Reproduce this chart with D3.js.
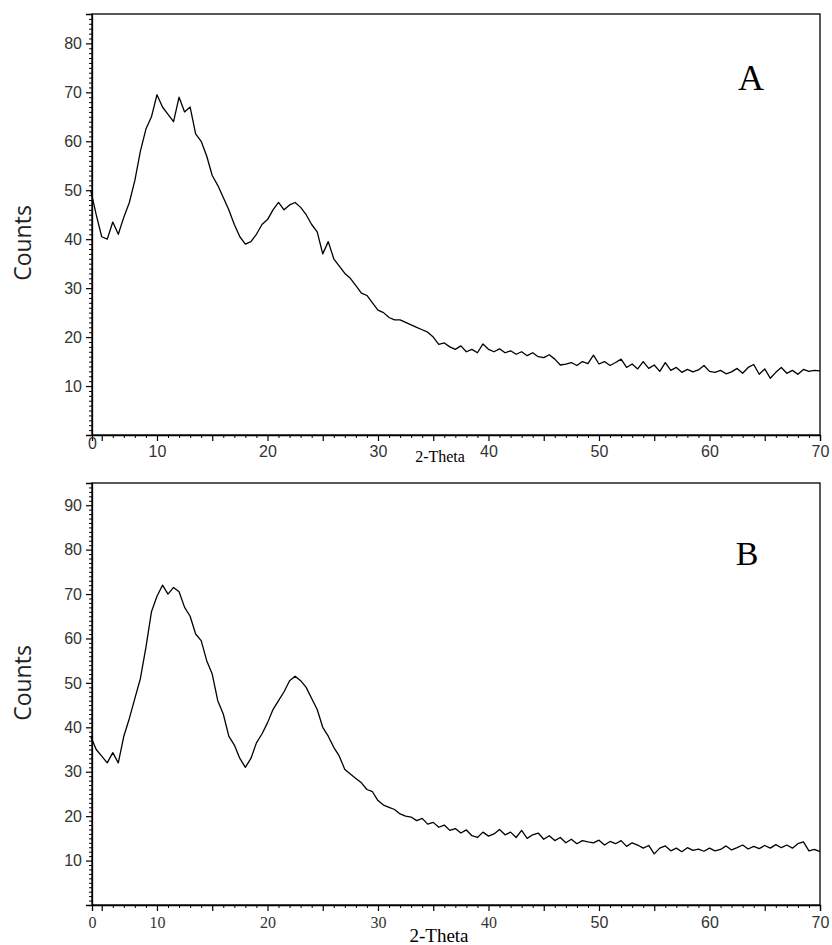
<!DOCTYPE html>
<html>
<head>
<meta charset="utf-8">
<script src="https://cdn.jsdelivr.net/npm/d3@7"></script>
<style>
  body { margin: 0; background: #fff; }
  svg { display: block; }
</style>
</head>
<body>
<svg id="chart" width="832" height="945"></svg>
<script>
// ---------- data ----------
const thetaStart = 4.0;
const thetaStep = 0.5;
const countsA = [
  50,45,40.5,40,43.5,41,44.5,47.5,52,58,62.5,65,69.5,67,65.5,64,69,66,67,61.5,
  60,57,53,51,48.5,46,43,40.5,39,39.5,41,43,44,46,47.5,46,47,47.5,46.5,45,
  43,41.5,37,39.5,36,34.5,33,32,30.5,29,28.5,27,25.5,25,24,23.5,23.5,23,22.5,22,
  21.5,21,20,18.5,18.8,18,17.5,18.2,17,17.5,16.8,18.6,17.5,17,17.6,16.8,17.2,16.5,17,16.2,
  16.8,16,15.8,16.4,15.5,14.3,14.5,14.8,14.2,15,14.6,16.3,14.5,15,14.2,14.8,15.5,13.8,14.5,13.5,
  15,13.6,14.3,13,14.8,13.2,13.8,12.8,13.4,12.9,13.3,14.2,13,12.8,13.2,12.5,12.9,13.6,12.6,13.8,
  14.4,12.4,13.5,11.6,12.8,13.8,12.6,13.2,12.4,13.4,13,13.2,13.1
];
const countsB = [
  38,35,33.5,32,34.3,32,38,42,46.5,51,58,66,69.5,72,70,71.5,70.5,67,65,61,
  59.5,55,52,46,43,38,36,33,31,33,36.5,38.5,41,44,46,48,50.5,51.5,50.5,49,
  46.5,44,40,38,35.5,33.5,30.5,29.5,28.5,27.5,26,25.5,23.5,22.5,22,21.5,20.5,20,19.8,19,
  19.5,18.2,18.6,17.5,18,16.8,17.2,16.2,16.9,15.6,15.2,16.4,15.5,16,17,15.8,16.4,15.2,16.8,15,
  15.8,16.2,14.8,15.6,14.5,15.2,14,14.8,13.8,14.5,14.2,14,14.6,13.5,14.3,13.8,14.5,13.2,14,13.5,
  12.8,13.4,11.5,12.8,13.3,12.2,12.8,12,12.9,12.3,12.6,12.1,12.8,12.2,12.5,13.3,12.4,12.9,13.5,12.6,
  13.2,12.7,13.4,12.8,13.6,12.9,13.5,12.8,13.8,14.2,12.2,12.5,12
];
const xTickValues = [4.12, 10, 20, 30, 40, 50, 60, 70];
const xTickLabels = ["0", "10", "20", "30", "40", "50", "60", "70"];
const yTicksA = [10, 20, 30, 40, 50, 60, 70, 80];
const yTicksB = [10, 20, 30, 40, 50, 60, 70, 80, 90];
const panelLetters = ["A", "B"];
const xTitle = "2-Theta";
const yTitle = "Counts";

// ---------- drawing ----------
const svg = d3.select("#chart");
const toRows = arr => arr.map((v, i) => ({ t: thetaStart + i * thetaStep, c: v }));

const panels = [
  { rows: toRows(countsA), yMax: 86, yTicks: yTicksA, top: 14, bottom: 435, letter: panelLetters[0],
    letterX: 751, letterY: 90, letterSize: 36, countsY: 243,
    tickBaseline: 22, zeroBaseline: 14, tickFont: "'Liberation Sans', Arial, sans-serif", serifUpTo: -1,
    xTitleX: 440, xTitleY: 462, xTitleSize: 16 },
  { rows: toRows(countsB), yMax: 95, yTicks: yTicksB, top: 483, bottom: 905, letter: panelLetters[1],
    letterX: 747, letterY: 565, letterSize: 34, countsY: 683,
    tickBaseline: 23, zeroBaseline: 23, tickFont: "'Liberation Sans', Arial, sans-serif", serifUpTo: 4,
    xTitleX: 439, xTitleY: 942, xTitleSize: 19 }
];

const left = 92, right = 820;

panels.forEach(p => {
  const x = d3.scaleLinear().domain([4.12, 70]).range([left, right]);
  const y = d3.scaleLinear().domain([0, p.yMax]).range([p.bottom, p.top]);
  const g = svg.append("g");

  // box
  g.append("rect")
    .attr("x", left).attr("y", p.top)
    .attr("width", right - left).attr("height", p.bottom - p.top)
    .attr("fill", "none").attr("stroke", "#000").attr("stroke-width", 1.3);

  // x minor ticks
  const xMinor = d3.range(5, 71).filter(v => v % 5 !== 0);
  g.append("g").attr("transform", `translate(0,${p.bottom})`)
    .call(d3.axisBottom(x).tickValues(xMinor).tickSize(3).tickFormat(""))
    .call(a => a.select(".domain").remove())
    .selectAll("line").attr("stroke", "#000");
  // x major ticks (every 5)
  const xMajor = d3.range(5, 71, 5);
  g.append("g").attr("transform", `translate(0,${p.bottom})`)
    .call(d3.axisBottom(x).tickValues(xMajor).tickSize(6).tickFormat(""))
    .call(a => a.select(".domain").attr("stroke", "#000").attr("stroke-width", 1.3))
    .selectAll("line").attr("stroke", "#000").attr("stroke-width", 1.2);

  // x tick labels
  const xl = g.append("g").attr("transform", `translate(0,${p.bottom})`)
    .call(d3.axisBottom(x).tickValues(xTickValues).tickSize(0)
      .tickFormat((d, i) => xTickLabels[i]));
  xl.select(".domain").remove();
  xl.selectAll("text")
    .attr("y", (d, i) => i === 0 ? p.zeroBaseline : p.tickBaseline)
    .attr("dy", 0)
    .attr("fill", "#333")
    .style("font-size", "16px")
    .style("font-family", (d, i) => i <= p.serifUpTo ? "'Liberation Serif', 'Times New Roman', serif" : p.tickFont);

  // y minor ticks
  const yMinor = d3.range(1, p.yMax + 1).filter(v => v % 10 !== 0);
  g.append("g").attr("transform", `translate(${left},0)`)
    .call(d3.axisLeft(y).tickValues(yMinor).tickSize(3).tickFormat(""))
    .call(a => a.select(".domain").remove())
    .selectAll("line").attr("stroke", "#000");
  // y major ticks + labels
  const ya = g.append("g").attr("transform", `translate(${left},0)`)
    .call(d3.axisLeft(y).tickValues(p.yTicks).tickSize(6).tickPadding(4));
  ya.select(".domain").attr("stroke", "#000").attr("stroke-width", 1.3);
  ya.selectAll("line").attr("stroke", "#000").attr("stroke-width", 1.2);
  ya.selectAll("text")
    .attr("fill", "#333")
    .style("font-size", "16px")
    .style("font-family", "'Liberation Sans', Arial, sans-serif");

  // line
  const line = d3.line().x(d => x(d.t)).y(d => y(d.c));
  g.append("path").datum(p.rows)
    .attr("d", line)
    .attr("fill", "none").attr("stroke", "#000")
    .attr("stroke-width", 1.3).attr("stroke-linejoin", "round");

  // panel letter
  g.append("text").attr("x", p.letterX).attr("y", p.letterY)
    .attr("text-anchor", "middle")
    .style("font-family", "'Liberation Serif', 'Times New Roman', serif")
    .style("font-size", p.letterSize + "px")
    .text(p.letter);

  // y title
  g.append("text")
    .attr("transform", `translate(31,${p.countsY}) rotate(-90)`)
    .attr("text-anchor", "middle")
    .attr("fill", "#222")
    .style("font-family", "'Open Sans', sans-serif")
    .style("font-size", "23px")
    .text(yTitle);

  // x title
  g.append("text").attr("x", p.xTitleX).attr("y", p.xTitleY)
    .attr("text-anchor", "middle")
    .style("font-family", "'Liberation Serif', 'Times New Roman', serif")
    .style("font-size", p.xTitleSize + "px")
    .text(xTitle);
});
</script>
</body>
</html>
